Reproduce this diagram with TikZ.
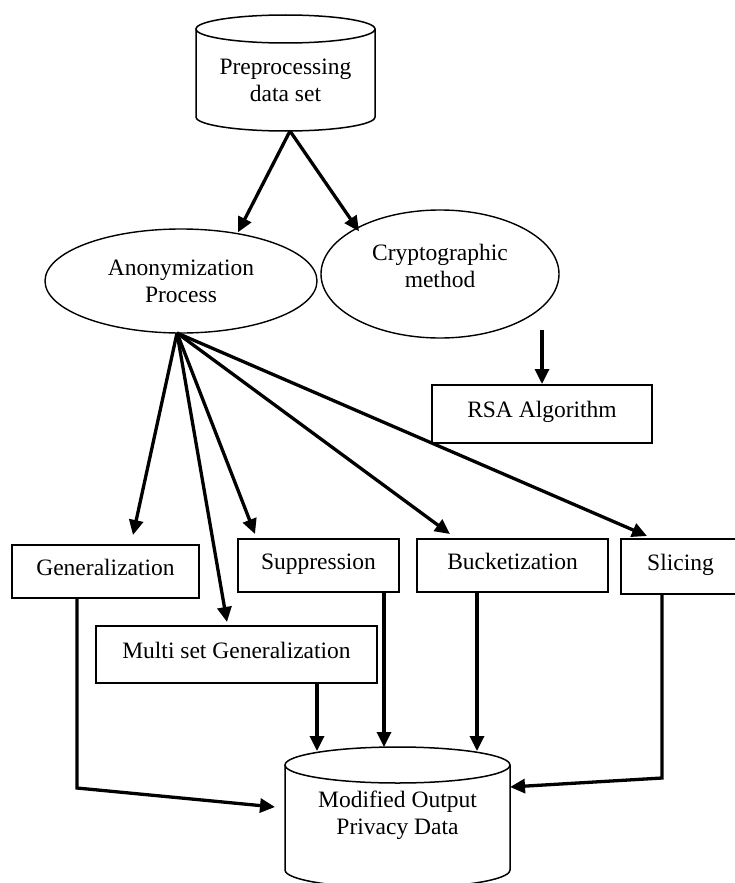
\documentclass[tikz,border=0pt]{standalone}
\usepackage{fontspec}
\setmainfont{Liberation Serif}
\usetikzlibrary{arrows.meta,shapes.geometric,calc}
\begin{document}
\begin{tikzpicture}[x=1pt,y=-1pt,
  every node/.style={font=\fontsize{23.5}{27}\selectfont, align=center, text=black},
  shp/.style={draw=black, line width=1.5pt},
  boxn/.style={draw=black, line width=2pt, inner sep=0pt, text height=16pt, text depth=9pt},
  ell/.style={ellipse, draw=black, line width=1.4pt, inner sep=0pt},
  conn/.style={line width=3.3pt, line join=miter, -{Triangle[length=15pt,width=14pt]}},
]
\useasboundingbox (0,0) rectangle (734,883);

% top cylinder
\draw[shp] (196,29) -- (196,117) arc[start angle=180, end angle=360, x radius=89.5pt, y radius=14pt] -- (375,29);
\draw[shp] (285.5,29) ellipse [x radius=89.5pt, y radius=14pt];
\node (pre) at (285.5,80) {Preprocessing\\data set};
\coordinate (preout) at (290,131);

% ellipses
\node[ell, minimum width=272pt, minimum height=104pt] (anon) at (181,281) {Anonymization\\Process};
\node[ell, minimum width=238pt, minimum height=128pt] (crypto) at (440,274) {};
\node (cryptotext) at (440,266) {Cryptographic\\method};

\draw[conn] (preout) -- ($(anon.north)+(57,4)$);
\draw[conn] (preout) -- ($(crypto.north)+(-81,22)$);

% RSA
\node[boxn, minimum width=220pt, minimum height=58pt] (rsa) at (542,414) {RSA Algorithm};
\coordinate (cryptoout) at (542,330);
\draw[conn] (cryptoout) -- (rsa.north);

% technique boxes
\node[boxn, minimum width=187pt, minimum height=53pt] (gen) at (105.5,571.5) {Generalization};
\node[boxn, minimum width=161pt, minimum height=53pt] (supp) at (318.5,565.5) {Suppression};
\node[boxn, minimum width=191pt, minimum height=53pt] (bucket) at (512.5,565.5) {Bucketization};
\node[boxn, minimum width=119pt, minimum height=55pt] (slic) at (680.5,566.5) {Slicing};
\node[boxn, minimum width=281pt, minimum height=57pt] (multi) at (236.5,654.5) {Multi set Generalization};

\coordinate (hub) at (177,333);
\draw[conn] (hub) -- ($(gen.north)+(27.5,-9)$);
\draw[conn] (hub) -- ($(multi.north)+(-9.5,-3)$);
\draw[conn] (hub) -- ($(supp.north)+(-63.5,-4)$);
\draw[conn] (hub) -- ($(bucket.north)+(-62.5,-4)$);
\draw[conn] (hub) -- ($(slic.north)+(-33.5,-2)$);

% bottom cylinder
\draw[shp] (285,765) -- (285,870) arc[start angle=180, end angle=360, x radius=112.5pt, y radius=18pt] -- (510,765);
\draw[shp] (397.5,765) ellipse [x radius=112.5pt, y radius=18pt];
\node (out) at (397.5,815) {Modified Output\\Privacy Data};
\coordinate (outL) at (275,807);
\coordinate (outR) at (510,787);
\coordinate (outT1) at (317,751);
\coordinate (outT2) at (384,747);
\coordinate (outT3) at (477,751);

\draw[conn] ($(gen.south)+(-28.5,0)$) -- ++(0,189) -- (outL);
\draw[conn] ($(multi.south)+(80.5,0)$) -- (outT1);
\draw[conn] ($(supp.south)+(65.5,0)$) -- (outT2);
\draw[conn] ($(bucket.south)+(-35.5,0)$) -- (outT3);
\draw[conn] ($(slic.south)+(-18.5,0)$) -- ++(0,183) -- (outR);
\end{tikzpicture}
\end{document}
